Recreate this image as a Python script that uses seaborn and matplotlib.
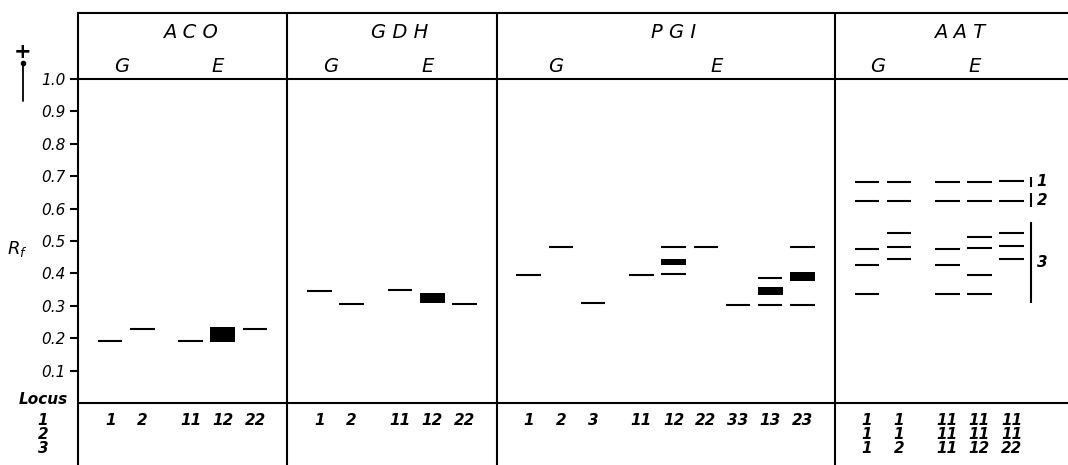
import numpy as np
import pandas as pd
import matplotlib
matplotlib.use("Agg")
import matplotlib.pyplot as plt
import matplotlib.transforms as mtransforms
from matplotlib.lines import Line2D
import seaborn as sns

# ---------------- data ----------------
enzymes = ["ACO", "GDH", "PGI", "AAT"]

aco_lanes = ["1", "2", "11", "12", "22"]
aco_groups = ["G", "G", "E", "E", "E"]
aco_thin = [[0.192], [0.228], [0.192], [], [0.228]]
aco_thick = [[], [], [], [(0.188, 0.235)], []]

gdh_lanes = ["1", "2", "11", "12", "22"]
gdh_groups = ["G", "G", "E", "E", "E"]
gdh_thin = [[0.346], [0.306], [0.349], [], [0.306]]
gdh_thick = [[], [], [], [(0.309, 0.340)], []]

pgi_lanes = ["1", "2", "3", "11", "12", "22", "33", "13", "23"]
pgi_groups = ["G", "G", "G", "E", "E", "E", "E", "E", "E"]
pgi_thin = [[0.396], [0.481], [0.308], [0.396], [0.481, 0.398], [0.481],
            [0.302], [0.386, 0.301], [0.481, 0.301]]
pgi_thick = [[], [], [], [], [(0.426, 0.444)], [], [],
             [(0.333, 0.357)], [(0.377, 0.404)]]

aat_locus1 = ["1", "1", "11", "11", "11"]
aat_locus2 = ["1", "1", "11", "11", "11"]
aat_locus3 = ["1", "2", "11", "12", "22"]
aat_groups = ["G", "G", "E", "E", "E"]
aat_thin = [[0.682, 0.623, 0.475, 0.425, 0.335],
            [0.682, 0.623, 0.524, 0.482, 0.443],
            [0.682, 0.623, 0.475, 0.425, 0.335],
            [0.682, 0.623, 0.513, 0.478, 0.394, 0.335],
            [0.686, 0.623, 0.526, 0.484, 0.445]]
aat_thick = [[], [], [], [], []]

aat_zone_labels = ["1", "2", "3"]
aat_zone_lo = [0.667, 0.605, 0.309]
aat_zone_hi = [0.698, 0.648, 0.559]

rf_ticks = [0.1, 0.2, 0.3, 0.4, 0.5, 0.6, 0.7, 0.8, 0.9, 1.0]
locus_rows = ["1", "2", "3"]

# ---------------- assemble ----------------
panels = [
    dict(name="ACO", rows=[aco_lanes], groups=aco_groups, thin=aco_thin, thick=aco_thick),
    dict(name="GDH", rows=[gdh_lanes], groups=gdh_groups, thin=gdh_thin, thick=gdh_thick),
    dict(name="PGI", rows=[pgi_lanes], groups=pgi_groups, thin=pgi_thin, thick=pgi_thick),
    dict(name="AAT", rows=[aat_locus1, aat_locus2, aat_locus3], groups=aat_groups,
         thin=aat_thin, thick=aat_thick),
]

# lane layout in "lane units"
x = 0.0
dividers = [0.0]
for p in panels:
    xs = []
    for i, g in enumerate(p["groups"]):
        if i == 0:
            x += 1.0
        else:
            x += 1.0 if g == p["groups"][i - 1] else 1.5
        xs.append(x)
    p["x"] = xs
    dividers.append(x + 1.0)
    x += 1.0
XMAX = panels[-1]["x"][-1] + 1.75
dividers = dividers[:-1]

thin_rows, thick_rows = [], []
for p in panels:
    for xi, th, tk in zip(p["x"], p["thin"], p["thick"]):
        for v in th:
            thin_rows.append(dict(enzyme=p["name"], x=xi, rf=v))
        for lo, hi in tk:
            thick_rows.append(dict(enzyme=p["name"], x=xi, lo=lo, hi=hi))
thin_df = pd.DataFrame(thin_rows)
thick_df = pd.DataFrame(thick_rows)

# ---------------- figure ----------------
sns.set_theme(style="white")
plt.rcParams["font.family"] = ["DejaVu Sans"]
plt.rcParams["text.color"] = "black"

W, H = 1068, 465
fig = plt.figure(figsize=(W / 100, H / 100), dpi=100)
fig.patch.set_facecolor("white")

# pixel geometry of the reference: Rf 1.0 at y=79, Rf 0 at y=403
px_per_rf = 324.0
y0_px = 403.0
YLO = (y0_px - H) / px_per_rf
YHI = y0_px / px_per_rf
YTOP = (y0_px - 13) / px_per_rf

left_px = 78
ax = fig.add_axes([left_px / W, 0, (W - left_px) / W, 1])
ax.set_xlim(0, XMAX)
ax.set_ylim(YLO, YHI)
ax.set_facecolor("white")

LW = 1.5
# frame lines
ax.hlines([0.0, 1.0, YTOP], 0, XMAX, colors="black", lw=LW, clip_on=False)
ax.vlines(dividers[1:], YLO, YTOP, colors="black", lw=LW)
for s in ["top", "right", "bottom"]:
    ax.spines[s].set_visible(False)
ax.spines["left"].set_bounds(YLO, YTOP)
ax.spines["left"].set_linewidth(LW)
ax.spines["left"].set_color("black")

# bands
HW = 0.38
ax.hlines(thin_df["rf"], thin_df["x"] - HW, thin_df["x"] + HW, colors="black", lw=1.5)
ax.bar(thick_df["x"], thick_df["hi"] - thick_df["lo"], bottom=thick_df["lo"],
       width=2 * HW + 0.02, color="black", edgecolor="black", linewidth=0)

# axis ticks
ax.set_xticks([])
ax.set_yticks(rf_ticks)
ax.set_yticklabels([f"{v:.1f}" for v in rf_ticks], fontstyle="italic", fontsize=11)
ax.tick_params(axis="y", direction="out", length=6, width=LW, pad=3,
               left=True, colors="black")

# headers
hdr = dict(ha="center", va="center", fontstyle="italic", fontsize=14, color="black")
for i, p in enumerate(panels):
    right = dividers[i + 1] if i + 1 < len(dividers) else XMAX
    cx = (dividers[i] + right) / 2 + 0.25
    ax.text(cx, (y0_px - 32) / px_per_rf, " ".join(p["name"]), **hdr)
    gx = [xx for xx, g in zip(p["x"], p["groups"]) if g == "G"]
    ex = [xx for xx, g in zip(p["x"], p["groups"]) if g == "E"]
    ax.text(np.mean(gx) - 0.15, (y0_px - 66) / px_per_rf, "G", **hdr)
    ax.text(np.mean(ex) - 0.15, (y0_px - 66) / px_per_rf, "E", **hdr)

# lane labels
row_y = [(y0_px - 420) / px_per_rf, (y0_px - 434) / px_per_rf, (y0_px - 448) / px_per_rf]
lab = dict(ha="center", va="center", fontstyle="italic", fontsize=11,
           fontweight="bold", color="black")
for p in panels:
    for r, row in enumerate(p["rows"]):
        for xi, t in zip(p["x"], row):
            ax.text(xi, row_y[r], t, **lab)

# AAT zone annotations
zx = panels[-1]["x"][-1] + 0.6
for t, lo, hi in zip(aat_zone_labels, aat_zone_lo, aat_zone_hi):
    ax.vlines(zx, lo, hi, colors="black", lw=1.5)
    ax.text(zx + 0.18, (lo + hi) / 2, t, ha="left", va="center", fontstyle="italic",
            fontsize=11, fontweight="bold", color="black")

# left-side labels (x in figure fraction, y in data)
bt = mtransforms.blended_transform_factory(fig.transFigure, ax.transData)
ax.text(68 / W, (y0_px - 399) / px_per_rf, "Locus", transform=bt, ha="right",
        va="center", fontstyle="italic", fontsize=11, fontweight="bold",
        color="black", clip_on=False)
for r, t in enumerate(locus_rows):
    ax.text(43 / W, row_y[r], t, transform=bt, ha="center", va="center",
            fontstyle="italic", fontsize=11, fontweight="bold", color="black",
            clip_on=False)
ax.text(17 / W, (y0_px - 249) / px_per_rf, r"$R_f$", transform=bt, ha="center",
        va="center", fontsize=13, color="black", clip_on=False)

# migration direction arrow
fig.text(23 / W, 1 - 52 / H, "+", ha="center", va="center", fontsize=15,
         fontweight="bold", color="black")
fig.add_artist(Line2D([23 / W, 23 / W], [1 - 63 / H, 1 - 101 / H],
                      transform=fig.transFigure, color="black", lw=1.3))
fig.add_artist(Line2D([23 / W], [1 - 63 / H], transform=fig.transFigure,
                      marker="o", markersize=3, color="black"))

fig.savefig("out.png", dpi=100, facecolor="white")
